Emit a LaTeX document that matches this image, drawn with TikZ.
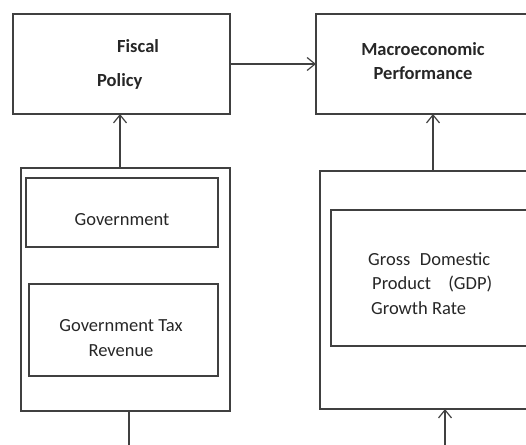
\documentclass[tikz,border=0pt]{standalone}
\usepackage{fontspec}
\setmainfont{Carlito}
\usetikzlibrary{arrows.meta,positioning}
\tikzset{
  box/.style={draw=black!75, line width=1.2pt, inner sep=0pt, outer sep=0pt},
  txt/.style={inner sep=0pt, text=black!85, font=\fontsize{18.5}{24.5}\selectfont},
  flow/.style={draw=black!75, line width=1.2pt}
}
\begin{document}
\begin{tikzpicture}[x=1pt,y=-1pt,>={Straight Barb[length=8pt,width=13pt]}]
\useasboundingbox (0,0) rectangle (526,444);
% top row
\node (fiscal) [box, minimum width=217pt, minimum height=100pt] at (121.5,64) {};
\node (macro) [box, minimum width=216pt, minimum height=100pt] at (424,64) {};
\node (fiscaltxt) [txt, anchor=base west, align=left, font=\fontsize{18.5}{24.5}\selectfont\bfseries] at (97,86) {\hspace*{20pt}Fiscal\\[9.5pt]Policy};
\node (macrotxt) [txt, anchor=base, align=center, font=\fontsize{18.5}{24}\selectfont\bfseries] at (423,79) {Macroeconomic\\Performance};
% left column
\node (taxside) [box, minimum width=209pt, minimum height=243pt] at (125.5,289.5) {};
\node (govbox) [box, minimum width=192pt, minimum height=69pt] at (122,212.5) {};
\node (revbox) [box, minimum width=189pt, minimum height=92pt] at (123.5,330) {};
\node (govtxt) [txt, anchor=base] at (122,225) {Government};
\node (revtxt) [txt, anchor=base, align=center] at (121,356) {Government Tax\\Revenue};
% right column
\node (gdpside) [box, minimum width=215pt, minimum height=238pt] at (427.5,290) {};
\node (gdpbox) [box, minimum width=199pt, minimum height=136pt] at (430.5,278) {};
\node (gdptxt) [txt, anchor=base west, align=left] at (368,314)
  {\makebox[122pt][s]{Gross Domestic}\\\hspace*{4pt}\makebox[120pt][s]{Product (GDP)}\\\hspace*{3pt}Growth Rate};
\coordinate (leftfoot) at (129,450);
\coordinate (rightfoot) at (445,450);
\draw [flow, ->] (fiscal.east) -- (macro.west);
\draw [flow, ->] ([xshift=-1.5pt]taxside.north -| fiscal.south) -- ([xshift=-1.5pt]fiscal.south);
\draw [flow, ->] ([xshift=5.5pt]gdpside.north) -- ([xshift=5.5pt]gdpside.north |- macro.south);
\draw [flow] ([xshift=3.5pt]taxside.south) -- (leftfoot);
\draw [flow, ->] (rightfoot) -- (rightfoot |- gdpside.south);
\end{tikzpicture}
\end{document}
